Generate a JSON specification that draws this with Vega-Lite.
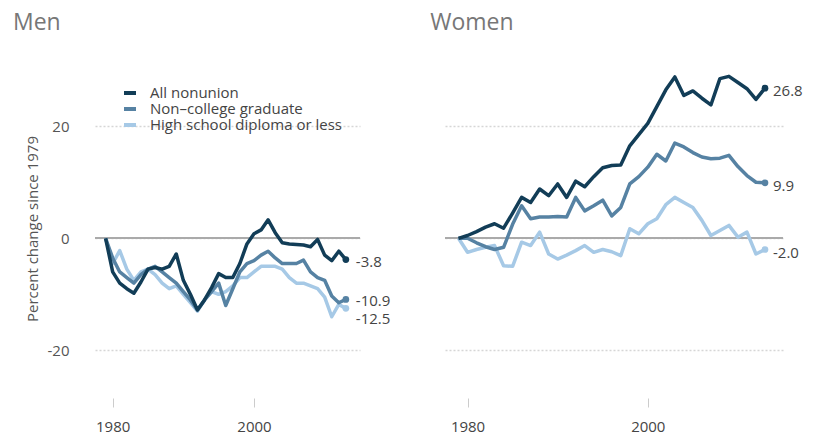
{
  "$schema": "https://vega.github.io/schema/vega-lite/v6.json",
  "padding": {"left": 13, "top": 12, "right": 5, "bottom": 5},
  "background": "white",
  "bounds": "flush",
  "spacing": 85,
  "config": {"font": "Open Sans", "view": {"stroke": null}, "locale": {"number": {"decimal": ".", "thousands": ",", "grouping": [3], "currency": ["$", ""], "minus": "-"}}},
  "resolve": {"legend": {"color": "independent"}},
  "datasets": {
    "d": [
      {"panel":"Men","series":"High school diploma or less","year":1979,"value":0},
      {"panel":"Men","series":"High school diploma or less","year":1980,"value":-4.5},
      {"panel":"Men","series":"High school diploma or less","year":1981,"value":-2.2},
      {"panel":"Men","series":"High school diploma or less","year":1982,"value":-5.5},
      {"panel":"Men","series":"High school diploma or less","year":1983,"value":-7.5},
      {"panel":"Men","series":"High school diploma or less","year":1984,"value":-6},
      {"panel":"Men","series":"High school diploma or less","year":1985,"value":-5.5},
      {"panel":"Men","series":"High school diploma or less","year":1986,"value":-6.5},
      {"panel":"Men","series":"High school diploma or less","year":1987,"value":-8},
      {"panel":"Men","series":"High school diploma or less","year":1988,"value":-9},
      {"panel":"Men","series":"High school diploma or less","year":1989,"value":-8.5},
      {"panel":"Men","series":"High school diploma or less","year":1990,"value":-10},
      {"panel":"Men","series":"High school diploma or less","year":1991,"value":-11.5},
      {"panel":"Men","series":"High school diploma or less","year":1992,"value":-13},
      {"panel":"Men","series":"High school diploma or less","year":1993,"value":-11},
      {"panel":"Men","series":"High school diploma or less","year":1994,"value":-9.5},
      {"panel":"Men","series":"High school diploma or less","year":1995,"value":-10},
      {"panel":"Men","series":"High school diploma or less","year":1996,"value":-9.5},
      {"panel":"Men","series":"High school diploma or less","year":1997,"value":-8.5},
      {"panel":"Men","series":"High school diploma or less","year":1998,"value":-7},
      {"panel":"Men","series":"High school diploma or less","year":1999,"value":-7},
      {"panel":"Men","series":"High school diploma or less","year":2000,"value":-6},
      {"panel":"Men","series":"High school diploma or less","year":2001,"value":-5},
      {"panel":"Men","series":"High school diploma or less","year":2002,"value":-5},
      {"panel":"Men","series":"High school diploma or less","year":2003,"value":-5},
      {"panel":"Men","series":"High school diploma or less","year":2004,"value":-5.5},
      {"panel":"Men","series":"High school diploma or less","year":2005,"value":-7},
      {"panel":"Men","series":"High school diploma or less","year":2006,"value":-8},
      {"panel":"Men","series":"High school diploma or less","year":2007,"value":-8},
      {"panel":"Men","series":"High school diploma or less","year":2008,"value":-8.5},
      {"panel":"Men","series":"High school diploma or less","year":2009,"value":-9},
      {"panel":"Men","series":"High school diploma or less","year":2010,"value":-10.5},
      {"panel":"Men","series":"High school diploma or less","year":2011,"value":-14},
      {"panel":"Men","series":"High school diploma or less","year":2012,"value":-11.8},
      {"panel":"Men","series":"High school diploma or less","year":2013,"value":-12.5},
      {"panel":"Men","series":"Non–college graduate","year":1979,"value":0},
      {"panel":"Men","series":"Non–college graduate","year":1980,"value":-3.5},
      {"panel":"Men","series":"Non–college graduate","year":1981,"value":-6},
      {"panel":"Men","series":"Non–college graduate","year":1982,"value":-7},
      {"panel":"Men","series":"Non–college graduate","year":1983,"value":-8},
      {"panel":"Men","series":"Non–college graduate","year":1984,"value":-6.5},
      {"panel":"Men","series":"Non–college graduate","year":1985,"value":-5.5},
      {"panel":"Men","series":"Non–college graduate","year":1986,"value":-5},
      {"panel":"Men","series":"Non–college graduate","year":1987,"value":-6},
      {"panel":"Men","series":"Non–college graduate","year":1988,"value":-7},
      {"panel":"Men","series":"Non–college graduate","year":1989,"value":-8},
      {"panel":"Men","series":"Non–college graduate","year":1990,"value":-9.5},
      {"panel":"Men","series":"Non–college graduate","year":1991,"value":-11},
      {"panel":"Men","series":"Non–college graduate","year":1992,"value":-12.8},
      {"panel":"Men","series":"Non–college graduate","year":1993,"value":-11},
      {"panel":"Men","series":"Non–college graduate","year":1994,"value":-9.5},
      {"panel":"Men","series":"Non–college graduate","year":1995,"value":-8},
      {"panel":"Men","series":"Non–college graduate","year":1996,"value":-12},
      {"panel":"Men","series":"Non–college graduate","year":1997,"value":-9},
      {"panel":"Men","series":"Non–college graduate","year":1998,"value":-6},
      {"panel":"Men","series":"Non–college graduate","year":1999,"value":-4.5},
      {"panel":"Men","series":"Non–college graduate","year":2000,"value":-4},
      {"panel":"Men","series":"Non–college graduate","year":2001,"value":-3},
      {"panel":"Men","series":"Non–college graduate","year":2002,"value":-2.3},
      {"panel":"Men","series":"Non–college graduate","year":2003,"value":-3.5},
      {"panel":"Men","series":"Non–college graduate","year":2004,"value":-4.5},
      {"panel":"Men","series":"Non–college graduate","year":2005,"value":-4.5},
      {"panel":"Men","series":"Non–college graduate","year":2006,"value":-4.5},
      {"panel":"Men","series":"Non–college graduate","year":2007,"value":-3.9},
      {"panel":"Men","series":"Non–college graduate","year":2008,"value":-6},
      {"panel":"Men","series":"Non–college graduate","year":2009,"value":-7},
      {"panel":"Men","series":"Non–college graduate","year":2010,"value":-7.5},
      {"panel":"Men","series":"Non–college graduate","year":2011,"value":-10.3},
      {"panel":"Men","series":"Non–college graduate","year":2012,"value":-11.5},
      {"panel":"Men","series":"Non–college graduate","year":2013,"value":-10.9},
      {"panel":"Men","series":"All nonunion","year":1979,"value":0},
      {"panel":"Men","series":"All nonunion","year":1980,"value":-6},
      {"panel":"Men","series":"All nonunion","year":1981,"value":-8},
      {"panel":"Men","series":"All nonunion","year":1982,"value":-9},
      {"panel":"Men","series":"All nonunion","year":1983,"value":-9.8},
      {"panel":"Men","series":"All nonunion","year":1984,"value":-7.8},
      {"panel":"Men","series":"All nonunion","year":1985,"value":-5.5},
      {"panel":"Men","series":"All nonunion","year":1986,"value":-5.2},
      {"panel":"Men","series":"All nonunion","year":1987,"value":-5.5},
      {"panel":"Men","series":"All nonunion","year":1988,"value":-5},
      {"panel":"Men","series":"All nonunion","year":1989,"value":-2.8},
      {"panel":"Men","series":"All nonunion","year":1990,"value":-7.5},
      {"panel":"Men","series":"All nonunion","year":1991,"value":-10},
      {"panel":"Men","series":"All nonunion","year":1992,"value":-12.8},
      {"panel":"Men","series":"All nonunion","year":1993,"value":-11},
      {"panel":"Men","series":"All nonunion","year":1994,"value":-8.8},
      {"panel":"Men","series":"All nonunion","year":1995,"value":-6.3},
      {"panel":"Men","series":"All nonunion","year":1996,"value":-7},
      {"panel":"Men","series":"All nonunion","year":1997,"value":-7},
      {"panel":"Men","series":"All nonunion","year":1998,"value":-4.5},
      {"panel":"Men","series":"All nonunion","year":1999,"value":-1},
      {"panel":"Men","series":"All nonunion","year":2000,"value":0.8},
      {"panel":"Men","series":"All nonunion","year":2001,"value":1.5},
      {"panel":"Men","series":"All nonunion","year":2002,"value":3.3},
      {"panel":"Men","series":"All nonunion","year":2003,"value":1},
      {"panel":"Men","series":"All nonunion","year":2004,"value":-0.8},
      {"panel":"Men","series":"All nonunion","year":2005,"value":-1},
      {"panel":"Men","series":"All nonunion","year":2006,"value":-1.1},
      {"panel":"Men","series":"All nonunion","year":2007,"value":-1.2},
      {"panel":"Men","series":"All nonunion","year":2008,"value":-1.5},
      {"panel":"Men","series":"All nonunion","year":2009,"value":-0.2},
      {"panel":"Men","series":"All nonunion","year":2010,"value":-3},
      {"panel":"Men","series":"All nonunion","year":2011,"value":-4},
      {"panel":"Men","series":"All nonunion","year":2012,"value":-2.3},
      {"panel":"Men","series":"All nonunion","year":2013,"value":-3.8},
      {"panel":"Women","series":"High school diploma or less","year":1979,"value":0},
      {"panel":"Women","series":"High school diploma or less","year":1980,"value":-2.5},
      {"panel":"Women","series":"High school diploma or less","year":1981,"value":-2},
      {"panel":"Women","series":"High school diploma or less","year":1982,"value":-1.6},
      {"panel":"Women","series":"High school diploma or less","year":1983,"value":-1.3},
      {"panel":"Women","series":"High school diploma or less","year":1984,"value":-4.9},
      {"panel":"Women","series":"High school diploma or less","year":1985,"value":-5},
      {"panel":"Women","series":"High school diploma or less","year":1986,"value":-0.7},
      {"panel":"Women","series":"High school diploma or less","year":1987,"value":-1.3},
      {"panel":"Women","series":"High school diploma or less","year":1988,"value":1.1},
      {"panel":"Women","series":"High school diploma or less","year":1989,"value":-2.8},
      {"panel":"Women","series":"High school diploma or less","year":1990,"value":-3.7},
      {"panel":"Women","series":"High school diploma or less","year":1991,"value":-3},
      {"panel":"Women","series":"High school diploma or less","year":1992,"value":-2.2},
      {"panel":"Women","series":"High school diploma or less","year":1993,"value":-1.3},
      {"panel":"Women","series":"High school diploma or less","year":1994,"value":-2.5},
      {"panel":"Women","series":"High school diploma or less","year":1995,"value":-2},
      {"panel":"Women","series":"High school diploma or less","year":1996,"value":-2.4},
      {"panel":"Women","series":"High school diploma or less","year":1997,"value":-3.1},
      {"panel":"Women","series":"High school diploma or less","year":1998,"value":1.7},
      {"panel":"Women","series":"High school diploma or less","year":1999,"value":0.8},
      {"panel":"Women","series":"High school diploma or less","year":2000,"value":2.6},
      {"panel":"Women","series":"High school diploma or less","year":2001,"value":3.5},
      {"panel":"Women","series":"High school diploma or less","year":2002,"value":6},
      {"panel":"Women","series":"High school diploma or less","year":2003,"value":7.3},
      {"panel":"Women","series":"High school diploma or less","year":2004,"value":6.4},
      {"panel":"Women","series":"High school diploma or less","year":2005,"value":5.5},
      {"panel":"Women","series":"High school diploma or less","year":2006,"value":3.2},
      {"panel":"Women","series":"High school diploma or less","year":2007,"value":0.5},
      {"panel":"Women","series":"High school diploma or less","year":2008,"value":1.4},
      {"panel":"Women","series":"High school diploma or less","year":2009,"value":2.3},
      {"panel":"Women","series":"High school diploma or less","year":2010,"value":0.2},
      {"panel":"Women","series":"High school diploma or less","year":2011,"value":1.1},
      {"panel":"Women","series":"High school diploma or less","year":2012,"value":-2.8},
      {"panel":"Women","series":"High school diploma or less","year":2013,"value":-2.0},
      {"panel":"Women","series":"Non–college graduate","year":1979,"value":0},
      {"panel":"Women","series":"Non–college graduate","year":1980,"value":0},
      {"panel":"Women","series":"Non–college graduate","year":1981,"value":-0.8},
      {"panel":"Women","series":"Non–college graduate","year":1982,"value":-1.5},
      {"panel":"Women","series":"Non–college graduate","year":1983,"value":-2},
      {"panel":"Women","series":"Non–college graduate","year":1984,"value":-1.6},
      {"panel":"Women","series":"Non–college graduate","year":1985,"value":2.5},
      {"panel":"Women","series":"Non–college graduate","year":1986,"value":5.8},
      {"panel":"Women","series":"Non–college graduate","year":1987,"value":3.5},
      {"panel":"Women","series":"Non–college graduate","year":1988,"value":3.8},
      {"panel":"Women","series":"Non–college graduate","year":1989,"value":3.8},
      {"panel":"Women","series":"Non–college graduate","year":1990,"value":3.9},
      {"panel":"Women","series":"Non–college graduate","year":1991,"value":3.8},
      {"panel":"Women","series":"Non–college graduate","year":1992,"value":7.3},
      {"panel":"Women","series":"Non–college graduate","year":1993,"value":4.9},
      {"panel":"Women","series":"Non–college graduate","year":1994,"value":5.8},
      {"panel":"Women","series":"Non–college graduate","year":1995,"value":6.8},
      {"panel":"Women","series":"Non–college graduate","year":1996,"value":4},
      {"panel":"Women","series":"Non–college graduate","year":1997,"value":5.5},
      {"panel":"Women","series":"Non–college graduate","year":1998,"value":9.7},
      {"panel":"Women","series":"Non–college graduate","year":1999,"value":11},
      {"panel":"Women","series":"Non–college graduate","year":2000,"value":12.7},
      {"panel":"Women","series":"Non–college graduate","year":2001,"value":15},
      {"panel":"Women","series":"Non–college graduate","year":2002,"value":13.8},
      {"panel":"Women","series":"Non–college graduate","year":2003,"value":17},
      {"panel":"Women","series":"Non–college graduate","year":2004,"value":16.3},
      {"panel":"Women","series":"Non–college graduate","year":2005,"value":15.3},
      {"panel":"Women","series":"Non–college graduate","year":2006,"value":14.5},
      {"panel":"Women","series":"Non–college graduate","year":2007,"value":14.2},
      {"panel":"Women","series":"Non–college graduate","year":2008,"value":14.3},
      {"panel":"Women","series":"Non–college graduate","year":2009,"value":14.8},
      {"panel":"Women","series":"Non–college graduate","year":2010,"value":12.8},
      {"panel":"Women","series":"Non–college graduate","year":2011,"value":11.2},
      {"panel":"Women","series":"Non–college graduate","year":2012,"value":10},
      {"panel":"Women","series":"Non–college graduate","year":2013,"value":9.9},
      {"panel":"Women","series":"All nonunion","year":1979,"value":0},
      {"panel":"Women","series":"All nonunion","year":1980,"value":0.5},
      {"panel":"Women","series":"All nonunion","year":1981,"value":1.2},
      {"panel":"Women","series":"All nonunion","year":1982,"value":2},
      {"panel":"Women","series":"All nonunion","year":1983,"value":2.6},
      {"panel":"Women","series":"All nonunion","year":1984,"value":1.8},
      {"panel":"Women","series":"All nonunion","year":1985,"value":4.5},
      {"panel":"Women","series":"All nonunion","year":1986,"value":7.3},
      {"panel":"Women","series":"All nonunion","year":1987,"value":6.4},
      {"panel":"Women","series":"All nonunion","year":1988,"value":8.8},
      {"panel":"Women","series":"All nonunion","year":1989,"value":7.6},
      {"panel":"Women","series":"All nonunion","year":1990,"value":9.7},
      {"panel":"Women","series":"All nonunion","year":1991,"value":7.3},
      {"panel":"Women","series":"All nonunion","year":1992,"value":10.2},
      {"panel":"Women","series":"All nonunion","year":1993,"value":9.2},
      {"panel":"Women","series":"All nonunion","year":1994,"value":11},
      {"panel":"Women","series":"All nonunion","year":1995,"value":12.6},
      {"panel":"Women","series":"All nonunion","year":1996,"value":13},
      {"panel":"Women","series":"All nonunion","year":1997,"value":13.1},
      {"panel":"Women","series":"All nonunion","year":1998,"value":16.5},
      {"panel":"Women","series":"All nonunion","year":1999,"value":18.5},
      {"panel":"Women","series":"All nonunion","year":2000,"value":20.5},
      {"panel":"Women","series":"All nonunion","year":2001,"value":23.5},
      {"panel":"Women","series":"All nonunion","year":2002,"value":26.5},
      {"panel":"Women","series":"All nonunion","year":2003,"value":28.8},
      {"panel":"Women","series":"All nonunion","year":2004,"value":25.5},
      {"panel":"Women","series":"All nonunion","year":2005,"value":26.3},
      {"panel":"Women","series":"All nonunion","year":2006,"value":25},
      {"panel":"Women","series":"All nonunion","year":2007,"value":23.8},
      {"panel":"Women","series":"All nonunion","year":2008,"value":28.5},
      {"panel":"Women","series":"All nonunion","year":2009,"value":28.9},
      {"panel":"Women","series":"All nonunion","year":2010,"value":27.8},
      {"panel":"Women","series":"All nonunion","year":2011,"value":26.7},
      {"panel":"Women","series":"All nonunion","year":2012,"value":24.8},
      {"panel":"Women","series":"All nonunion","year":2013,"value":26.8}
    ]
  },
  "data": {"name": "d"},
  "hconcat": [
    {
      "width": 265,
      "height": 339,
      "title": {"text": "Men", "anchor": "start", "dx": -12, "fontSize": 23, "fontWeight": "normal", "color": "#777", "offset": 24},
      "transform": [{"filter": "datum.panel === 'Men'"}],
      "layer": [
        {
          "mark": {"type": "rule", "color": "#aaaaaa", "strokeWidth": 1.5},
          "encoding": {
            "y": {"datum": 0, "type": "quantitative", "scale": {"domain": [-28.5, 32], "nice": false, "zero": false},
              "axis": {"values": [-20, 0, 20], "grid": true, "gridDash": [2, 2], "gridColor": "#d6d6d6", "gridWidth": 1.5, "domain": false, "ticks": false, "labelPadding": 26, "labelFontSize": 15, "labelColor": "#555", "title": "Percent change since 1979", "titleFontSize": 15, "titleFontWeight": "normal", "titleColor": "#555", "titlePadding": 7}}
          }
        },
        {
          "mark": {"type": "line", "strokeWidth": 3.5, "strokeJoin": "round"},
          "encoding": {
            "x": {"field": "year", "type": "quantitative", "scale": {"domain": [1977.5, 2015], "nice": false, "zero": false},
              "axis": {"values": [1980, 2000], "format": "d", "grid": false, "domain": false, "tickColor": "#cccccc", "tickSize": 9, "labelPadding": 12, "labelFontSize": 15, "labelColor": "#444", "title": null}},
            "y": {"field": "value", "type": "quantitative", "scale": {"domain": [-28.5, 32], "nice": false, "zero": false},
              "axis": {"values": [-20, 0, 20], "grid": true, "gridDash": [2, 2], "gridColor": "#d6d6d6", "gridWidth": 1.5, "domain": false, "ticks": false, "labelPadding": 26, "labelFontSize": 15, "labelColor": "#555", "title": "Percent change since 1979", "titleFontSize": 15, "titleFontWeight": "normal", "titleColor": "#555", "titlePadding": 7}},
            "color": {"field": "series", "type": "nominal",
              "scale": {"domain": ["All nonunion", "Non–college graduate", "High school diploma or less"], "range": ["#123d57", "#5682a3", "#a6c9e6"]},
              "legend": {"orient": "none", "legendX": 27, "legendY": 26, "title": null, "symbolType": "stroke", "symbolStrokeWidth": 4, "symbolSize": 144, "labelFontSize": 15, "labelLimit": 400, "labelColor": "#444", "rowPadding": -12, "labelOffset": 12}}
          }
        },
        {
          "transform": [{"filter": "datum.year === 2013"}],
          "mark": {"type": "circle", "size": 45, "opacity": 1},
          "encoding": {
            "x": {"field": "year", "type": "quantitative"},
            "y": {"field": "value", "type": "quantitative"},
            "color": {"field": "series", "type": "nominal", "legend": null}
          }
        },
        {
          "transform": [{"filter": "datum.year === 2013 && datum.series !== 'High school diploma or less'"}],
          "mark": {"type": "text", "align": "left", "baseline": "middle", "dx": 10, "dy": 2, "fontSize": 15, "color": "#444"},
          "encoding": {
            "x": {"field": "year", "type": "quantitative"},
            "y": {"field": "value", "type": "quantitative"},
            "text": {"field": "value", "type": "quantitative", "format": ".1f"}
          }
        },
        {
          "transform": [{"filter": "datum.year === 2013 && datum.series === 'High school diploma or less'"}],
          "mark": {"type": "text", "align": "left", "baseline": "middle", "dx": 10, "dy": 11, "fontSize": 15, "color": "#444"},
          "encoding": {
            "x": {"field": "year", "type": "quantitative"},
            "y": {"field": "value", "type": "quantitative"},
            "text": {"field": "value", "type": "quantitative", "format": ".1f"}
          }
        }
      ]
    },
    {
      "width": 338,
      "height": 339,
      "title": {"text": "Women", "anchor": "start", "dx": -14, "fontSize": 23, "fontWeight": "normal", "color": "#777", "offset": 24},
      "transform": [{"filter": "datum.panel === 'Women'"}],
      "layer": [
        {
          "mark": {"type": "rule", "color": "#aaaaaa", "strokeWidth": 1.5},
          "encoding": {
            "y": {"datum": 0, "type": "quantitative", "scale": {"domain": [-28.5, 32], "nice": false, "zero": false},
              "axis": {"values": [-20, 0, 20], "grid": true, "gridDash": [2, 2], "gridColor": "#d6d6d6", "gridWidth": 1.5, "domain": false, "ticks": false, "labels": false, "title": null}}
          }
        },
        {
          "mark": {"type": "line", "strokeWidth": 3.5, "strokeJoin": "round"},
          "encoding": {
            "x": {"field": "year", "type": "quantitative", "scale": {"domain": [1977.5, 2015], "nice": false, "zero": false},
              "axis": {"values": [1980, 2000], "format": "d", "grid": false, "domain": false, "tickColor": "#cccccc", "tickSize": 9, "labelPadding": 12, "labelFontSize": 15, "labelColor": "#444", "title": null}},
            "y": {"field": "value", "type": "quantitative", "scale": {"domain": [-28.5, 32], "nice": false, "zero": false},
              "axis": {"values": [-20, 0, 20], "grid": true, "gridDash": [2, 2], "gridColor": "#d6d6d6", "gridWidth": 1.5, "domain": false, "ticks": false, "labels": false, "title": null}},
            "color": {"field": "series", "type": "nominal",
              "scale": {"domain": ["All nonunion", "Non–college graduate", "High school diploma or less"], "range": ["#123d57", "#5682a3", "#a6c9e6"]},
              "legend": null}
          }
        },
        {
          "transform": [{"filter": "datum.year === 2013"}],
          "mark": {"type": "circle", "size": 45, "opacity": 1},
          "encoding": {
            "x": {"field": "year", "type": "quantitative"},
            "y": {"field": "value", "type": "quantitative"},
            "color": {"field": "series", "type": "nominal", "legend": null}
          }
        },
        {
          "transform": [{"filter": "datum.year === 2013"}],
          "mark": {"type": "text", "align": "left", "baseline": "middle", "dx": 8, "dy": 3, "fontSize": 15, "color": "#444"},
          "encoding": {
            "x": {"field": "year", "type": "quantitative"},
            "y": {"field": "value", "type": "quantitative"},
            "text": {"field": "value", "type": "quantitative", "format": ".1f"}
          }
        }
      ]
    }
  ]
}
